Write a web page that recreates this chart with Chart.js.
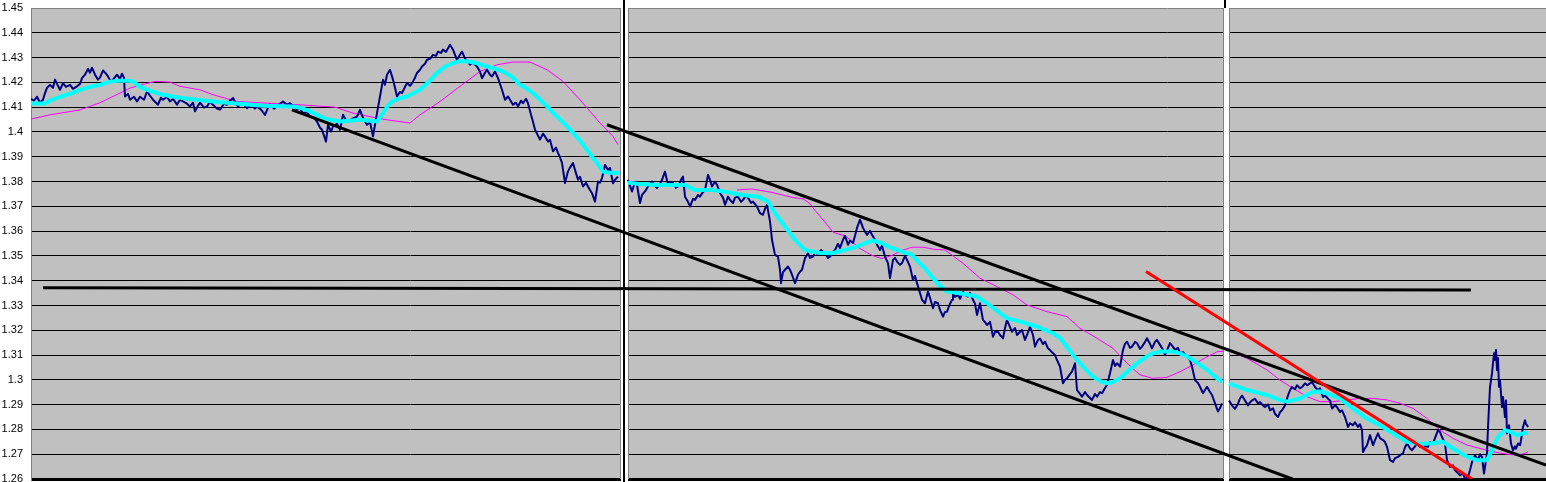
<!DOCTYPE html>
<html>
<head>
<meta charset="utf-8">
<script src="https://cdn.jsdelivr.net/npm/chart.js@4.4.1/dist/chart.umd.min.js"></script>
<style>
  html, body { margin: 0; padding: 0; background: #fff; }
  #wrap { width: 1546px; height: 482px; position: relative; }
</style>
</head>
<body>
<div id="wrap"><canvas id="fxChart" width="1546" height="482"></canvas></div>
<script>
// ========== DATA ==========
// x = bar number, y = rate. Three screenshots stitched side by side.

const yMin = 1.26;
const yMax = 1.45;
const yStep = 0.01;
const firstBar = 31;
const lastBar = 1546;
const panelBreaks = [624, 1226];

// --- panel 1 ---
const price1 = [
  [31,1.4134],[34,1.4126],[37,1.4142],[40,1.4118],[43,1.4130],[45,1.4157],[47,1.4178],[50,1.4190],
  [53,1.4178],[55,1.4211],[58,1.4186],[60,1.4170],[63,1.4197],[66,1.4182],[70,1.4190],[73,1.4174],
  [77,1.4184],[80,1.4194],[82,1.4217],[85,1.4231],[88,1.4255],[90,1.4239],[92,1.4259],[95,1.4231],
  [98,1.4211],[100,1.4219],[103,1.4248],[106,1.4235],[108,1.4224],[111,1.4203],[113,1.4211],[117,1.4231],
  [120,1.4214],[122,1.4235],[124,1.4219],[125,1.4143],[128,1.4154],[130,1.4130],[134,1.4142],[137,1.4123],
  [140,1.4142],[144,1.4130],[147,1.4163],[150,1.4146],[153,1.4130],[156,1.4118],[158,1.4110],[161,1.4138],
  [163,1.4130],[167,1.4142],[170,1.4123],[173,1.4134],[177,1.4110],[180,1.4130],[183,1.4123],[187,1.4114],
  [190,1.4103],[193,1.4118],[195,1.4083],[198,1.4106],[200,1.4118],[204,1.4098],[207,1.4103],[210,1.4122],
  [213,1.4110],[217,1.4094],[220,1.4090],[224,1.4114],[227,1.4110],[230,1.4126],[233,1.4137],[236,1.4114],
  [238,1.4103],[242,1.4118],[247,1.4096],[251,1.4110],[255,1.4094],[257,1.4103],[261,1.4090],[265,1.4069],
  [268,1.4098],[270,1.4110],[274,1.4094],[277,1.4103],[280,1.4114],[283,1.4123],[287,1.4110],[290,1.4116],
  [294,1.4102],[297,1.4090],[300,1.4094],[303,1.4076],[307,1.4081],[310,1.4062],[314,1.4057],[317,1.4042],
  [320,1.4017],[322,1.4009],[326,1.3961],[328,1.4029],[331,1.4001],[333,1.4022],[337,1.4033],[340,1.4009],
  [343,1.4069],[347,1.4041],[350,1.4049],[354,1.4057],[357,1.4062],[360,1.4089],[363,1.4057],[367,1.4029],
  [370,1.4041],[373,1.3982],[375,1.4029],[377,1.4076],[380,1.4143],[383,1.4211],[385,1.4190],[387,1.4231],
  [390,1.4251],[393,1.4211],[395,1.4178],[397,1.4143],[400,1.4162],[402,1.4157],[405,1.4182],[407,1.4197],
  [410,1.4186],[412,1.4197],[415,1.4219],[417,1.4238],[420,1.4251],[422,1.4264],[425,1.4275],[427,1.4291],
  [430,1.4295],[433,1.4311],[436,1.4307],[438,1.4324],[441,1.4319],[443,1.4332],[446,1.4323],[450,1.4352],
  [453,1.4332],[455,1.4311],[457,1.4291],[460,1.4311],[462,1.4324],[465,1.4297],[468,1.4283],[470,1.4271],
  [473,1.4279],[477,1.4264],[480,1.4243],[482,1.4217],[485,1.4239],[487,1.4251],[490,1.4231],[492,1.4224],
  [495,1.4244],[498,1.4217],[500,1.4194],[502,1.4170],[505,1.4130],[508,1.4143],[510,1.4130],[513,1.4110],
  [516,1.4118],[518,1.4103],[521,1.4126],[523,1.4116],[526,1.4134],[528,1.4116],[531,1.4069],[533,1.4041],
  [535,1.4009],[538,1.3985],[540,1.3969],[543,1.3993],[545,1.3982],[548,1.3961],[550,1.3969],[553,1.3922],
  [556,1.3937],[558,1.3916],[560,1.3897],[562,1.3875],[565,1.3794],[568,1.3841],[570,1.3856],[573,1.3875],
  [575,1.3847],[578,1.3807],[580,1.3819],[583,1.3780],[586,1.3795],[588,1.3780],[590,1.3766],[592,1.3753],
  [595,1.3719],[598,1.3800],[600,1.3795],[602,1.3814],[605,1.3867],[608,1.3847],[610,1.3855],[613,1.3793],
  [615,1.3807],[618,1.3820]
];
const fastMa1 = [
  [31,1.4115],[45,1.4115],[50,1.4126],[60,1.4142],[70,1.4154],[80,1.4170],[90,1.4182],[100,1.4190],
  [110,1.4203],[120,1.4207],[130,1.4207],[135,1.4198],[140,1.4182],[150,1.4166],[163,1.4150],[180,1.4138],
  [197,1.4130],[215,1.4122],[230,1.4117],[263,1.4106],[293,1.4103],[303,1.4094],[310,1.4083],[317,1.4069],
  [323,1.4057],[330,1.4049],[340,1.4042],[360,1.4049],[377,1.4042],[383,1.4076],[388,1.4106],[392,1.4123],
  [400,1.4136],[407,1.4143],[420,1.4170],[430,1.4207],[437,1.4238],[445,1.4263],[453,1.4278],[460,1.4285],
  [467,1.4285],[477,1.4277],[487,1.4264],[495,1.4255],[503,1.4244],[512,1.4223],[520,1.4190],[527,1.4174],
  [533,1.4157],[540,1.4130],[547,1.4103],[553,1.4077],[560,1.4051],[567,1.4022],[573,1.3997],[580,1.3965],
  [587,1.3928],[592,1.3900],[597,1.3875],[603,1.3840],[610,1.3835],[620,1.3834]
];
const slowMa1 = [
  [31,1.4052],[50,1.4069],[80,1.4089],[100,1.4118],[113,1.4143],[130,1.4177],[145,1.4194],[155,1.4204],
  [170,1.4201],[180,1.4184],[200,1.4170],[213,1.4150],[237,1.4123],[263,1.4117],[297,1.4110],[335,1.4100],
  [353,1.4076],[377,1.4056],[387,1.4049],[410,1.4036],[420,1.4069],[440,1.4123],[460,1.4184],[480,1.4244],
  [497,1.4271],[513,1.4282],[530,1.4282],[547,1.4251],[563,1.4204],[583,1.4116],[600,1.4036],[613,1.3982],
  [618,1.3948]
];

// --- panel 2 ---
const price2 = [
  [628,1.3807],[630,1.3783],[632,1.3760],[635,1.3799],[637,1.3787],[640,1.3713],[642,1.3746],[645,1.3760],
  [648,1.3780],[650,1.3791],[652,1.3800],[655,1.3783],[657,1.3774],[660,1.3791],[662,1.3807],[665,1.3840],
  [668,1.3787],[670,1.3799],[673,1.3794],[676,1.3775],[678,1.3780],[681,1.3807],[683,1.3820],[685,1.3739],
  [688,1.3718],[690,1.3699],[693,1.3730],[695,1.3726],[698,1.3746],[700,1.3739],[703,1.3758],[705,1.3766],
  [708,1.3827],[710,1.3807],[712,1.3780],[715,1.3799],[717,1.3787],[720,1.3754],[723,1.3735],[725,1.3706],
  [728,1.3739],[730,1.3726],[733,1.3713],[735,1.3735],[738,1.3739],[741,1.3718],[743,1.3726],[746,1.3742],
  [748,1.3734],[751,1.3714],[753,1.3719],[757,1.3699],[760,1.3672],[763,1.3666],[765,1.3690],[767,1.3706],
  [770,1.3639],[772,1.3565],[775,1.3504],[778,1.3497],[780,1.3444],[781,1.3390],[783,1.3435],[785,1.3444],
  [788,1.3457],[790,1.3444],[792,1.3424],[795,1.3390],[798,1.3424],[800,1.3436],[802,1.3444],[805,1.3491],
  [808,1.3511],[810,1.3492],[813,1.3497],[815,1.3516],[818,1.3504],[821,1.3524],[825,1.3511],[828,1.3492],
  [830,1.3497],[833,1.3516],[835,1.3524],[838,1.3549],[840,1.3532],[843,1.3565],[845,1.3581],[848,1.3545],
  [850,1.3561],[853,1.3552],[855,1.3581],[857,1.3613],[860,1.3646],[863,1.3613],[865,1.3598],[867,1.3585],
  [870,1.3601],[872,1.3585],[875,1.3565],[877,1.3545],[880,1.3524],[882,1.3541],[885,1.3497],[888,1.3471],
  [890,1.3410],[893,1.3484],[895,1.3492],[897,1.3477],[900,1.3464],[902,1.3471],[905,1.3500],[907,1.3484],
  [910,1.3457],[913,1.3403],[915,1.3419],[917,1.3390],[920,1.3350],[922,1.3323],[925,1.3309],[928,1.3356],
  [930,1.3331],[933,1.3289],[935,1.3314],[938,1.3309],[940,1.3282],[943,1.3255],[945,1.3274],[947,1.3275],
  [950,1.3307],[952,1.3323],[953,1.3356],[955,1.3335],[958,1.3343],[960,1.3327],[963,1.3356],[965,1.3343],
  [968,1.3336],[970,1.3351],[973,1.3323],[975,1.3307],[977,1.3262],[980,1.3309],[983,1.3241],[985,1.3233],
  [987,1.3221],[990,1.3234],[993,1.3174],[995,1.3193],[998,1.3194],[1000,1.3181],[1003,1.3167],[1005,1.3209],
  [1007,1.3241],[1010,1.3213],[1012,1.3194],[1015,1.3209],[1017,1.3181],[1020,1.3193],[1022,1.3201],[1025,1.3161],
  [1027,1.3181],[1030,1.3214],[1033,1.3181],[1035,1.3134],[1038,1.3161],[1040,1.3167],[1043,1.3144],[1045,1.3154],
  [1048,1.3127],[1050,1.3120],[1053,1.3107],[1055,1.3100],[1057,1.3080],[1060,1.3053],[1063,1.2986],[1065,1.2999],
  [1067,1.3006],[1070,1.3023],[1072,1.3033],[1075,1.3067],[1077,1.2959],[1080,1.2943],[1082,1.2932],[1085,1.2951],
  [1087,1.2939],[1090,1.2927],[1092,1.2919],[1095,1.2943],[1097,1.2932],[1100,1.2951],[1102,1.2946],[1105,1.2967],
  [1107,1.2979],[1110,1.3027],[1113,1.3080],[1115,1.3056],[1117,1.3067],[1120,1.3053],[1123,1.3121],[1125,1.3145],
  [1127,1.3154],[1130,1.3129],[1132,1.3134],[1135,1.3153],[1137,1.3148],[1140,1.3125],[1142,1.3134],[1145,1.3153],
  [1147,1.3168],[1150,1.3145],[1152,1.3127],[1155,1.3153],[1157,1.3161],[1160,1.3141],[1163,1.3121],[1165,1.3100],
  [1168,1.3129],[1170,1.3148],[1173,1.3133],[1175,1.3121],[1178,1.3129],[1180,1.3107],[1183,1.3112],[1187,1.3093],
  [1190,1.3080],[1192,1.3053],[1195,1.2999],[1198,1.2987],[1200,1.2972],[1203,1.2946],[1205,1.2959],[1207,1.2972],
  [1210,1.2951],[1212,1.2939],[1215,1.2905],[1218,1.2872],[1220,1.2886],[1222,1.2905]
];
const fastMa2 = [
  [628,1.3795],[640,1.3790],[658,1.3786],[685,1.3786],[695,1.3766],[712,1.3766],[725,1.3759],[742,1.3746],
  [758,1.3739],[768,1.3719],[775,1.3672],[780,1.3645],[785,1.3618],[795,1.3565],[805,1.3524],[818,1.3513],
  [832,1.3511],[845,1.3524],[855,1.3535],[865,1.3551],[873,1.3562],[882,1.3551],[892,1.3531],[902,1.3517],
  [912,1.3504],[918,1.3477],[925,1.3450],[933,1.3410],[940,1.3379],[947,1.3356],[960,1.3349],[977,1.3336],
  [987,1.3309],[1000,1.3269],[1007,1.3249],[1020,1.3235],[1037,1.3215],[1053,1.3188],[1060,1.3169],[1067,1.3134],
  [1073,1.3100],[1080,1.3067],[1087,1.3036],[1093,1.3013],[1100,1.2995],[1107,1.2986],[1113,1.2991],[1120,1.3006],
  [1127,1.3032],[1133,1.3053],[1140,1.3076],[1147,1.3094],[1153,1.3107],[1160,1.3114],[1173,1.3114],[1180,1.3107],
  [1187,1.3094],[1193,1.3080],[1200,1.3060],[1207,1.3042],[1213,1.3019],[1222,1.2992]
];
const slowMa2 = [
  [737,1.3766],[752,1.3770],[772,1.3756],[792,1.3736],[803,1.3730],[810,1.3711],[815,1.3683],[825,1.3636],
  [833,1.3596],[840,1.3586],[845,1.3582],[852,1.3558],[858,1.3535],[865,1.3518],[872,1.3502],[882,1.3489],
  [892,1.3502],[902,1.3522],[912,1.3535],[923,1.3535],[935,1.3526],[945,1.3524],[963,1.3470],[980,1.3410],
  [997,1.3376],[1013,1.3343],[1027,1.3302],[1047,1.3275],[1067,1.3255],[1080,1.3208],[1097,1.3168],[1113,1.3127],
  [1127,1.3067],[1140,1.3020],[1153,1.3006],[1167,1.3010],[1180,1.3033],[1193,1.3060],[1207,1.3093],[1217,1.3113],
  [1223,1.3116]
];

// --- panel 3 ---
const price3 = [
  [1229,1.2917],[1232,1.2897],[1235,1.2883],[1238,1.2903],[1240,1.2925],[1242,1.2937],[1245,1.2917],[1248,1.2897],
  [1250,1.2909],[1252,1.2917],[1255,1.2924],[1258,1.2905],[1260,1.2910],[1263,1.2897],[1265,1.2890],[1268,1.2901],
  [1270,1.2877],[1273,1.2885],[1275,1.2863],[1278,1.2850],[1280,1.2869],[1282,1.2877],[1285,1.2897],[1288,1.2937],
  [1290,1.2958],[1292,1.2971],[1295,1.2962],[1297,1.2978],[1300,1.2966],[1302,1.2971],[1305,1.2986],[1307,1.2978],
  [1310,1.2986],[1312,1.2991],[1315,1.2971],[1318,1.2958],[1320,1.2966],[1323,1.2931],[1325,1.2937],[1328,1.2924],
  [1330,1.2917],[1332,1.2884],[1335,1.2897],[1337,1.2890],[1340,1.2870],[1342,1.2877],[1345,1.2850],[1348,1.2810],
  [1350,1.2825],[1353,1.2817],[1355,1.2829],[1358,1.2810],[1360,1.2821],[1362,1.2797],[1363,1.2709],[1365,1.2724],
  [1367,1.2736],[1370,1.2777],[1373,1.2736],[1375,1.2757],[1378,1.2784],[1380,1.2765],[1383,1.2757],[1385,1.2749],
  [1387,1.2730],[1390,1.2676],[1393,1.2669],[1395,1.2684],[1398,1.2689],[1400,1.2696],[1403,1.2703],[1405,1.2728],
  [1407,1.2743],[1410,1.2724],[1412,1.2716],[1415,1.2732],[1417,1.2743],[1420,1.2730],[1423,1.2743],[1425,1.2732],
  [1428,1.2730],[1430,1.2749],[1433,1.2743],[1435,1.2765],[1438,1.2797],[1440,1.2789],[1442,1.2770],[1445,1.2743],
  [1447,1.2676],[1450,1.2649],[1453,1.2655],[1455,1.2635],[1457,1.2628],[1460,1.2615],[1463,1.2623],[1465,1.2601],
  [1468,1.2608],[1470,1.2635],[1472,1.2669],[1475,1.2696],[1478,1.2676],[1480,1.2700],[1482,1.2689],[1484,1.2622],
  [1486,1.2676],[1487,1.2703],[1488,1.2810],[1490,1.2971],[1492,1.3026],[1494,1.3107],[1495,1.3080],[1496,1.3120],
  [1497,1.3039],[1498,1.3088],[1499,1.2971],[1500,1.2999],[1502,1.2890],[1503,1.2931],[1505,1.2850],[1506,1.2917],
  [1507,1.2784],[1509,1.2817],[1511,1.2743],[1513,1.2716],[1515,1.2732],[1516,1.2722],[1518,1.2743],[1520,1.2736],
  [1521,1.2756],[1523,1.2810],[1525,1.2837],[1526,1.2821],[1527,1.2817],[1528,1.2810]
];
const fastMa3 = [
  [1229,1.2986],[1247,1.2959],[1267,1.2939],[1280,1.2918],[1287,1.2912],[1300,1.2925],[1313,1.2952],[1320,1.2953],
  [1327,1.2945],[1340,1.2925],[1353,1.2884],[1367,1.2844],[1380,1.2817],[1393,1.2784],[1407,1.2750],[1420,1.2741],
  [1433,1.2744],[1443,1.2750],[1453,1.2723],[1467,1.2690],[1477,1.2676],[1487,1.2676],[1492,1.2717],[1498,1.2770],
  [1505,1.2797],[1510,1.2791],[1517,1.2777],[1523,1.2784],[1528,1.2787]
];
const slowMa3 = [
  [1229,1.3116],[1247,1.3087],[1267,1.3040],[1280,1.2999],[1293,1.2966],[1307,1.2932],[1320,1.2912],[1333,1.2912],
  [1347,1.2919],[1360,1.2925],[1373,1.2925],[1387,1.2919],[1400,1.2905],[1413,1.2885],[1427,1.2844],[1440,1.2797],
  [1453,1.2764],[1467,1.2737],[1480,1.2723],[1493,1.2710],[1507,1.2700],[1517,1.2696],[1525,1.2703],[1528,1.2710]
];

// --- hand drawn lines ---
const lowerChannel = [[292,1.4089],[1295,1.2596]];
const upperChannel = [[607,1.4029],[1546,1.2656]];
const supportLine = [[43,1.3372],[1471,1.3362]];
const redTrend = [[1146,1.3437],[1472,1.2600]];

// ========== HELPERS ==========

function toPoints(pairs) {
    return pairs.map(p => ({ x: p[0], y: p[1] }));
}

// join the three panels, with a null point so the line breaks at each seam
function joinPanels(a, b, c) {
    const gap = x => ({ x: x, y: null });
    return [...toPoints(a), gap(panelBreaks[0]), ...toPoints(b), gap(panelBreaks[1]), ...toPoints(c)];
}

function near(a, b) {
    return Math.abs(a - b) < 1e-6;
}

// ========== PLUGIN: background + panel seams ==========

const panelPlugin = {
    id: 'panels',
    beforeDraw(chart) {
        const { ctx, chartArea: a } = chart;
        ctx.save();
        ctx.fillStyle = '#ffffff';
        ctx.fillRect(0, 0, chart.width, chart.height);
        ctx.fillStyle = '#C0C0C0';
        ctx.fillRect(a.left, a.top, a.right - a.left, a.bottom - a.top);
        ctx.restore();
    },
    beforeDatasetsDraw(chart) {
        const { ctx, chartArea: a } = chart;
        const xs = chart.scales.x;
        ctx.save();

        // first seam: white gap with a black rule through it
        let p = Math.round(xs.getPixelForValue(panelBreaks[0]));
        ctx.fillStyle = '#ffffff';
        ctx.fillRect(p - 3, 0, 7, chart.height);
        ctx.fillStyle = '#000000';
        ctx.fillRect(p - 1, 0, 2, chart.height);
        ctx.strokeStyle = '#808080';
        ctx.lineWidth = 1;
        ctx.beginPath();
        ctx.moveTo(p - 3.5, a.top); ctx.lineTo(p - 3.5, a.bottom);
        ctx.moveTo(p + 4.5, a.top); ctx.lineTo(p + 4.5, a.bottom);
        ctx.stroke();

        // second seam: narrower, black only above the plot
        p = Math.round(xs.getPixelForValue(panelBreaks[1]));
        ctx.fillStyle = '#ffffff';
        ctx.fillRect(p - 2, 0, 5, chart.height);
        ctx.fillStyle = '#000000';
        ctx.fillRect(p - 2, 0, 2, a.top);
        ctx.strokeStyle = '#808080';
        ctx.beginPath();
        ctx.moveTo(p - 2.5, a.top); ctx.lineTo(p - 2.5, a.bottom);
        ctx.moveTo(p + 3.5, a.top); ctx.lineTo(p + 3.5, a.bottom);
        ctx.stroke();

        ctx.restore();
    }
};

// ========== CHART ==========

document.addEventListener('DOMContentLoaded', () => {
    const ctx = document.getElementById('fxChart').getContext('2d');

    new Chart(ctx, {
        type: 'line',
        data: {
            datasets: [
                { label: 'red trend', data: toPoints(redTrend), borderColor: '#FF0000', borderWidth: 3 },
                { label: 'upper channel', data: toPoints(upperChannel), borderColor: '#000000', borderWidth: 3 },
                { label: 'lower channel', data: toPoints(lowerChannel), borderColor: '#000000', borderWidth: 3 },
                { label: 'support', data: toPoints(supportLine), borderColor: '#000000', borderWidth: 3 },
                { label: 'fast MA', data: joinPanels(fastMa1, fastMa2, fastMa3), borderColor: '#00FFFF', borderWidth: 4 },
                { label: 'price', data: joinPanels(price1, price2, price3), borderColor: '#000080', borderWidth: 2 },
                { label: 'slow MA', data: joinPanels(slowMa1, slowMa2, slowMa3), borderColor: '#FF00FF', borderWidth: 1 }
            ]
        },
        options: {
            responsive: false,
            animation: false,
            devicePixelRatio: 1,
            spanGaps: false,
            layout: { padding: { top: 8, bottom: 3, left: 0, right: 0 } },
            elements: {
                point: { radius: 0 },
                line: { tension: 0, borderJoinStyle: 'round', fill: false }
            },
            plugins: {
                legend: { display: false },
                tooltip: { enabled: false }
            },
            scales: {
                x: {
                    type: 'linear',
                    min: firstBar,
                    max: lastBar,
                    display: false
                },
                y: {
                    min: yMin,
                    max: yMax,
                    position: 'left',
                    ticks: {
                        stepSize: yStep,
                        color: '#000000',
                        padding: 8,
                        font: { family: "'Liberation Sans', Arial, sans-serif", size: 11 },
                        callback: v => String(Math.round(v * 100) / 100)
                    },
                    grid: {
                        drawTicks: false,
                        color: c => near(c.tick.value, yMax) ? '#808080' : '#000000',
                        lineWidth: c => near(c.tick.value, yMin) ? 3 : 1
                    },
                    border: { color: '#808080', width: 1 },
                    afterFit(scale) {
                        scale.width = 31;
                        scale.paddingTop = 0;
                        scale.paddingBottom = 0;
                    }
                }
            }
        },
        plugins: [panelPlugin]
    });
});
</script>
</body>
</html>
